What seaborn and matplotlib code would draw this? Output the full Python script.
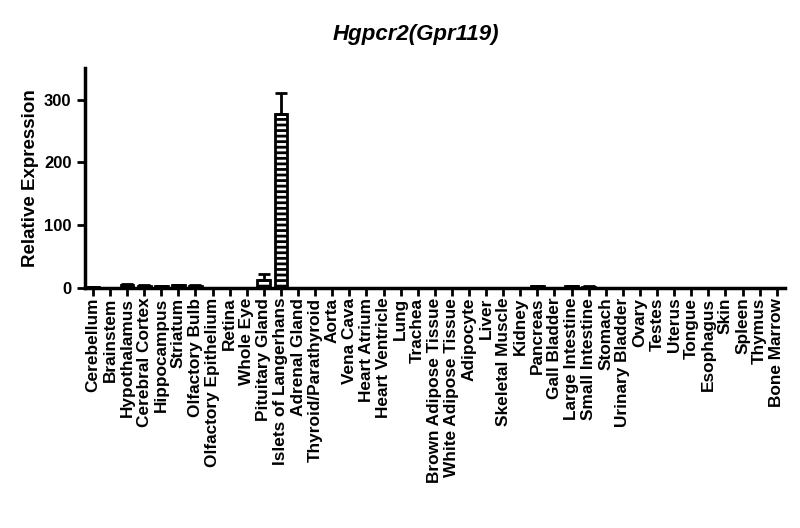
import numpy as np
import pandas as pd
import seaborn as sns
from matplotlib import pyplot as plt

tissues = ['Cerebellum', 'Brainstem', 'Hypothalamus', 'Cerebral Cortex', 'Hippocampus',
           'Striatum', 'Olfactory Bulb', 'Olfactory Epithelium', 'Retina', 'Whole Eye',
           'Pituitary Gland', 'Islets of Langerhans', 'Adrenal Gland', 'Thyroid/Parathyroid',
           'Aorta', 'Vena Cava', 'Heart Atrium', 'Heart Ventricle', 'Lung', 'Trachea',
           'Brown Adipose Tissue', 'White Adipose Tissue', 'Adipocyte', 'Liver',
           'Skeletal Muscle', 'Kidney', 'Pancreas', 'Gall Bladder', 'Large Intestine',
           'Small Intestine', 'Stomach', 'Urinary Bladder', 'Ovary', 'Testes', 'Uterus',
           'Tongue', 'Esophagus', 'Skin', 'Spleen', 'Thymus', 'Bone Marrow']
expression = [1.5, 0.5, 5.5, 3.5, 3.0, 4.5, 3.5, 0.5, 0.3, 0.3,
              13.0, 277.0, 0.3, 0.3, 0.3, 0.3, 0.3, 0.3, 0.3, 0.3,
              0.3, 0.3, 0.3, 0.3, 0.3, 0.3, 3.0, 0.3, 3.0, 2.0,
              0.3, 0.3, 0.3, 0.3, 0.3, 0.3, 0.3, 0.3, 0.3, 0.3, 0.3]
sem = [0.5, 0.2, 1.0, 0.8, 0.6, 1.0, 0.8, 0.2, 0.1, 0.1,
       10.0, 34.0, 0.1, 0.1, 0.1, 0.1, 0.1, 0.1, 0.1, 0.1,
       0.1, 0.1, 0.1, 0.1, 0.1, 0.1, 0.8, 0.1, 0.8, 0.5,
       0.1, 0.1, 0.1, 0.1, 0.1, 0.1, 0.1, 0.1, 0.1, 0.1, 0.1]

df = pd.DataFrame({'Tissue': tissues, 'Expression': expression, 'SEM': sem})

sns.set_style('ticks')
plt.rcParams['font.family'] = ['Liberation Sans', 'DejaVu Sans']
plt.rcParams['hatch.linewidth'] = 2.0
for key in ['text.color', 'axes.labelcolor', 'xtick.color', 'ytick.color', 'axes.edgecolor']:
    plt.rcParams[key] = 'black'

fig = plt.figure(figsize=(8, 5.28), dpi=100)
ax = fig.add_axes([0.106, 0.4545, 0.875, 0.4165])

sns.barplot(data=df, x='Tissue', y='Expression', color='white', edgecolor='black',
            linewidth=2, width=0.75, errorbar=None, ax=ax)
for patch in ax.patches:
    patch.set_hatch('---')
    patch.set_facecolor('white')

# upward-only error bars
ax.errorbar(np.arange(len(tissues)), df['Expression'],
            yerr=[np.zeros(len(sem)), df['SEM']], fmt='none',
            ecolor='black', elinewidth=2, capsize=4, capthick=2)

ax.set_ylim(0, 350)
ax.set_xlim(-0.47, len(tissues) - 0.53)
ax.set_yticks([0, 100, 200, 300])
ax.set_xlabel('')
ax.set_ylabel('Relative Expression', fontsize=13.5, fontweight='bold', labelpad=4)
ax.tick_params(axis='both', width=2, length=6)
ax.tick_params(axis='x', pad=1)
plt.setp(ax.get_xticklabels(), rotation=90, fontweight='bold', fontsize=12.4)
plt.setp(ax.get_yticklabels(), fontsize=12, fontweight='bold')
for s in ['left', 'bottom']:
    ax.spines[s].set_linewidth(2.5)
sns.despine(ax=ax)

fig.text(0.52, 0.935, 'Hgpcr2(Gpr119)', ha='center', va='center',
         fontsize=16, fontweight='bold', fontstyle='italic')

plt.savefig('out.png', dpi=100)
